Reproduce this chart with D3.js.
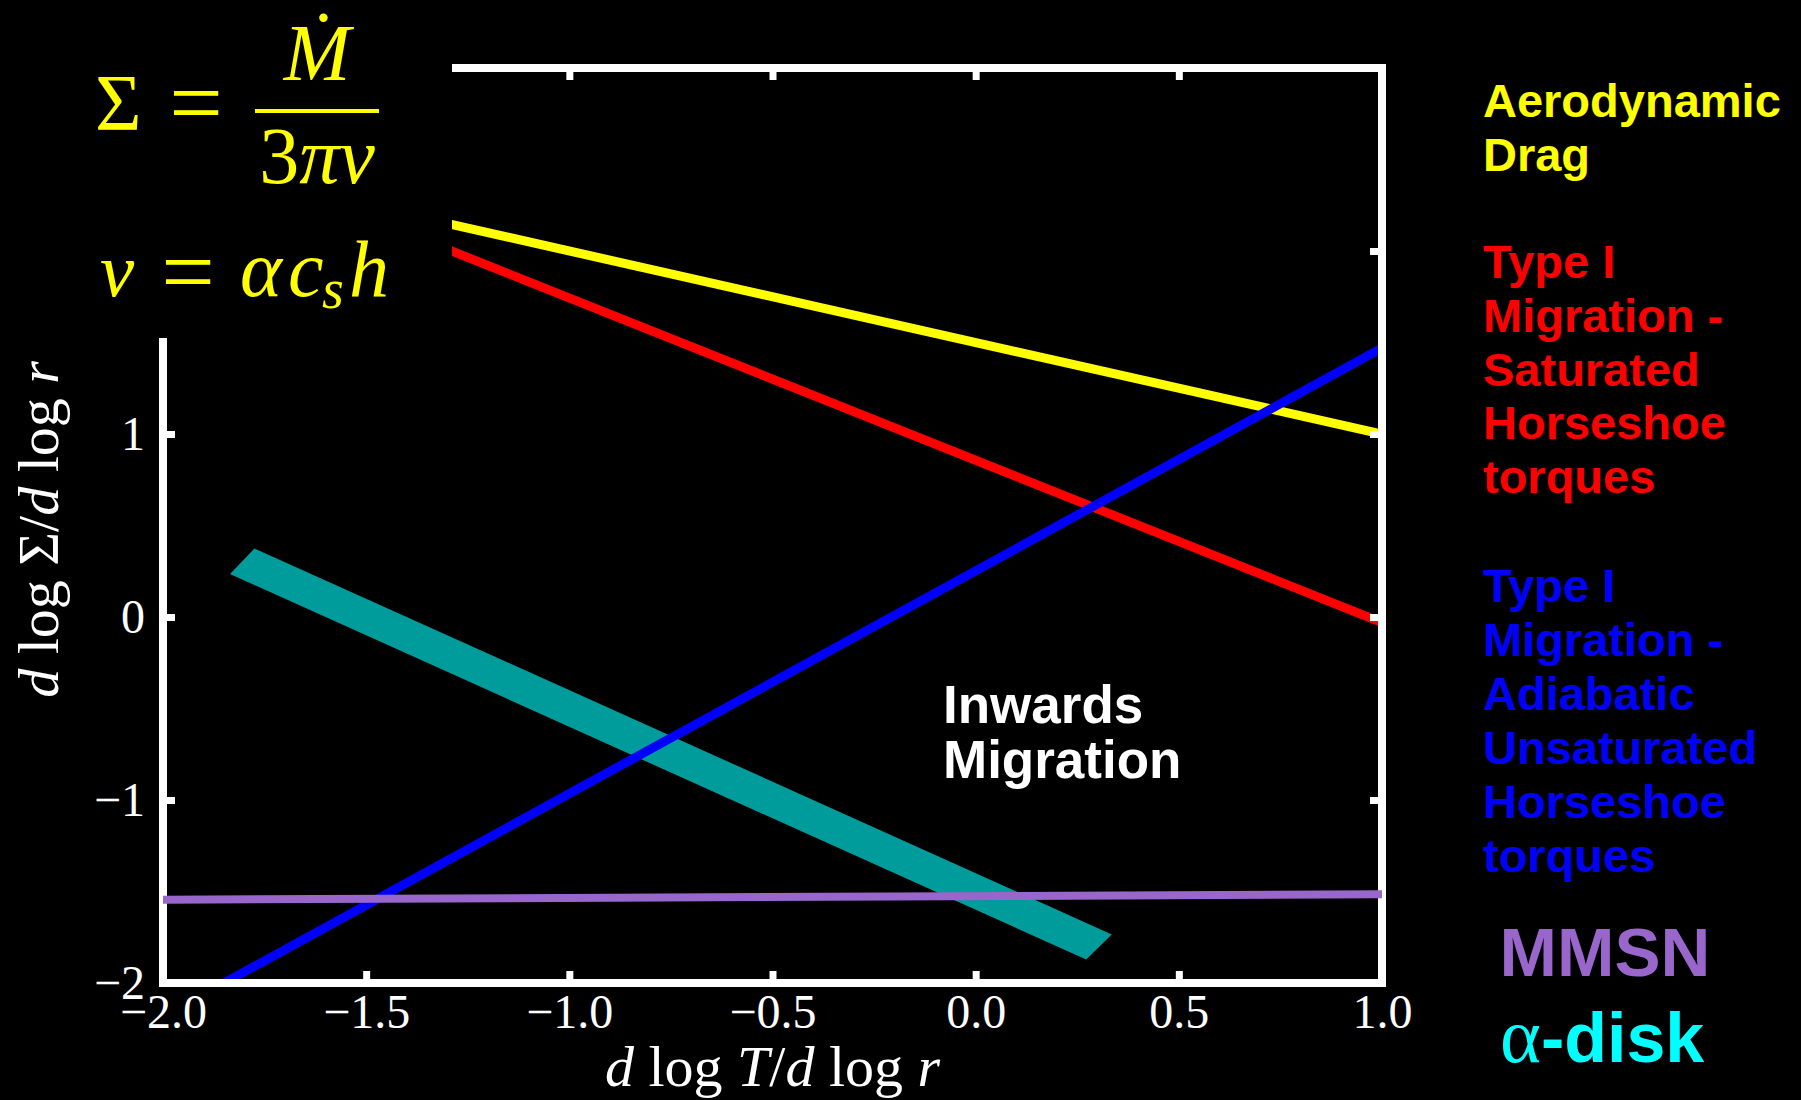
<!DOCTYPE html>
<html>
<head>
<meta charset="utf-8">
<script src="https://cdn.jsdelivr.net/npm/d3@7"></script>
<style>
  html, body { margin: 0; padding: 0; background: #000; }
  svg { display: block; }
</style>
</head>
<body>
<svg id="chart" width="1801" height="1100"></svg>
<script>
// Axis ticks
const xTicks = [-2.0, -1.5, -1.0, -0.5, 0.0, 0.5, 1.0];
const yTicks = [-2, -1, 0, 1];
const yTicksRight = [-1, 0, 1, 2];

// Zero-migration lines in (dlogT/dlogr, dlogΣ/dlogr)
const dragX = [-2.0, 1.0];
const dragY = [2.5, 1.0];
const saturatedX = [-2.0, 1.0];
const saturatedY = [2.63, -0.03];
const adiabaticX = [-1.85, 1.0];
const adiabaticY = [-2.0, 1.47];
const mmsnX = [-2.0, 1.0];
const mmsnY = [-1.545, -1.515];

// α-disk band: upper and lower edges
const alphaUpperX = [-1.775, 0.335];
const alphaUpperY = [0.375, -1.735];
const alphaLowerX = [-1.835, 0.272];
const alphaLowerY = [0.235, -1.872];

// Text blocks beside the plot
const dragLabel = ["Aerodynamic", "Drag"];
const saturatedLabel = ["Type I", "Migration -", "Saturated", "Horseshoe", "torques"];
const adiabaticLabel = ["Type I", "Migration -", "Adiabatic", "Unsaturated", "Horseshoe", "torques"];
const regionLabel = ["Inwards", "Migration"];

const svg = d3.select("#chart");
const W = 1801, H = 1100;
const serif = "'Liberation Serif', 'DejaVu Serif', serif";
const sans = "'Liberation Sans', Arial, sans-serif";

svg.append("rect").attr("width", W).attr("height", H).attr("fill", "#000");

const x = d3.scaleLinear().domain([-2, 1]).range([163, 1382]);
const y = d3.scaleLinear().domain([-2, 3]).range([983, 68]);

const zip = (xs, ys) => xs.map((v, i) => [v, ys[i]]);
const line = d3.line().x(d => x(d[0])).y(d => y(d[1]));

svg.append("clipPath").attr("id", "plot-clip")
  .append("rect")
  .attr("x", x(-2)).attr("y", y(3))
  .attr("width", x(1) - x(-2)).attr("height", y(-2) - y(3));

const plot = svg.append("g").attr("clip-path", "url(#plot-clip)");

// α-disk band
const band = zip(alphaUpperX, alphaUpperY).concat(zip(alphaLowerX, alphaLowerY).reverse());
plot.append("path")
  .attr("d", line(band) + "Z")
  .attr("fill", "#009b9b");

// zero-torque / drift lines
[[dragX, dragY, "#ffff00"],
 [saturatedX, saturatedY, "#ff0000"],
 [adiabaticX, adiabaticY, "#0000ff"]].forEach(([xs, ys, c]) => {
  plot.append("path")
    .attr("d", line(zip(xs, ys)))
    .attr("fill", "none")
    .attr("stroke", c)
    .attr("stroke-width", 9);
});

// Frame and ticks
const tickStyle = g => {
  g.select(".domain").remove();
  g.selectAll(".tick line").attr("stroke", "#fff").attr("stroke-width", 7);
  g.selectAll(".tick text")
    .attr("fill", "#fff")
    .attr("font-family", serif)
    .attr("font-size", 48);
};

svg.append("g")
  .attr("transform", `translate(0,${y(-2)})`)
  .call(d3.axisBottom(x).tickValues(xTicks).tickSize(-12).tickPadding(11)
    .tickFormat(d => d3.format(".1f")(d).replace("-", "\u2212")))
  .call(tickStyle);

svg.append("g")
  .attr("transform", `translate(${x(-2)},0)`)
  .call(d3.axisLeft(y).tickValues(yTicks).tickSize(-12).tickPadding(18)
    .tickFormat(d => String(d).replace("-", "\u2212")))
  .call(tickStyle);

svg.append("g")
  .attr("transform", `translate(0,${y(3)})`)
  .call(d3.axisTop(x).tickValues(xTicks).tickSize(-12).tickFormat(""))
  .call(tickStyle);

svg.append("g")
  .attr("transform", `translate(${x(1)},0)`)
  .call(d3.axisRight(y).tickValues(yTicksRight).tickSize(-12).tickFormat(""))
  .call(tickStyle);

svg.append("rect")
  .attr("x", x(-2)).attr("y", y(3))
  .attr("width", x(1) - x(-2)).attr("height", y(-2) - y(3))
  .attr("fill", "none").attr("stroke", "#fff").attr("stroke-width", 8);

// MMSN line sits over the frame
svg.append("path")
  .attr("d", line(zip(mmsnX, mmsnY)))
  .attr("fill", "none")
  .attr("stroke", "#9966cc")
  .attr("stroke-width", 8);

// Axis titles
const xTitle = svg.append("text")
  .attr("x", (x(-2) + x(1)) / 2).attr("y", 1086)
  .attr("text-anchor", "middle")
  .attr("fill", "#fff").attr("font-family", serif).attr("font-size", 58);
xTitle.append("tspan").attr("font-style", "italic").text("d");
xTitle.append("tspan").text(" log ");
xTitle.append("tspan").attr("font-style", "italic").text("T");
xTitle.append("tspan").text("/");
xTitle.append("tspan").attr("font-style", "italic").text("d");
xTitle.append("tspan").text(" log ");
xTitle.append("tspan").attr("font-style", "italic").text("r");

const yTitle = svg.append("text")
  .attr("transform", `translate(58,${(y(-2) + y(3)) / 2 + 4}) rotate(-90)`)
  .attr("text-anchor", "middle")
  .attr("fill", "#fff").attr("font-family", serif).attr("font-size", 58);
yTitle.append("tspan").attr("font-style", "italic").text("d");
yTitle.append("tspan").text(" log \u03A3/");
yTitle.append("tspan").attr("font-style", "italic").text("d");
yTitle.append("tspan").text(" log ");
yTitle.append("tspan").attr("font-style", "italic").text("r");

// Panel holding the disk relations (covers the top-left corner of the frame)
svg.append("rect").attr("x", 0).attr("y", 0).attr("width", 452).attr("height", 338).attr("fill", "#000");

const eq = svg.append("g").attr("fill", "#ffff00").attr("font-family", serif);
const put = (txt, px, py, size, opts = {}) => eq.append("text")
  .attr("x", px).attr("y", py)
  .attr("font-size", size)
  .attr("font-style", opts.italic ? "italic" : "normal")
  .attr("text-anchor", opts.anchor || "start")
  .text(txt);

put("\u03A3", 95, 130, 80);
put("=", 196, 135, 95, { anchor: "middle" });
put("\u1E40", 317, 80, 80, { italic: true, anchor: "middle" });
eq.append("line").attr("x1", 255).attr("x2", 379).attr("y1", 111).attr("y2", 111)
  .attr("stroke", "#ffff00").attr("stroke-width", 4);
const den = eq.append("text").attr("x", 317).attr("y", 183).attr("font-size", 80).attr("text-anchor", "middle");
den.append("tspan").text("3");
den.append("tspan").attr("font-style", "italic").text("\u03C0\u03BD");

put("\u03BD", 100, 296, 77, { italic: true });
put("=", 188, 304, 95, { anchor: "middle" });
put("\u03B1", 240, 296, 80, { italic: true });
put("c", 288, 296, 80, { italic: true });
put("s", 322, 308, 56, { italic: true });
put("h", 349, 296, 80, { italic: true });

// Side labels
const block = (lines, x0, y0, dy, color, size) => {
  const t = svg.append("text")
    .attr("font-family", sans).attr("font-weight", "bold")
    .attr("font-size", size).attr("fill", color);
  lines.forEach((s, i) => t.append("tspan").attr("x", x0).attr("y", y0 + i * dy).text(s));
};
block(dragLabel, 1483, 117, 54, "#ffff00", 47);
block(saturatedLabel, 1483, 278, 53.8, "#ff0000", 47);
block(adiabaticLabel, 1483, 602, 54, "#0000ff", 47);
block(regionLabel, 943, 723, 55, "#ffffff", 53);

svg.append("text")
  .attr("x", 1605).attr("y", 976).attr("text-anchor", "middle")
  .attr("font-family", sans).attr("font-weight", "bold").attr("font-size", 69)
  .attr("fill", "#9966cc").text("MMSN");

const ad = svg.append("text")
  .attr("x", 1500).attr("y", 1062)
  .attr("font-size", 70).attr("fill", "#00ffff");
ad.append("tspan").attr("font-family", serif).attr("font-size", 78).text("\u03B1");
ad.append("tspan").attr("font-family", sans).attr("font-weight", "bold").text("-disk");
</script>
</body>
</html>
